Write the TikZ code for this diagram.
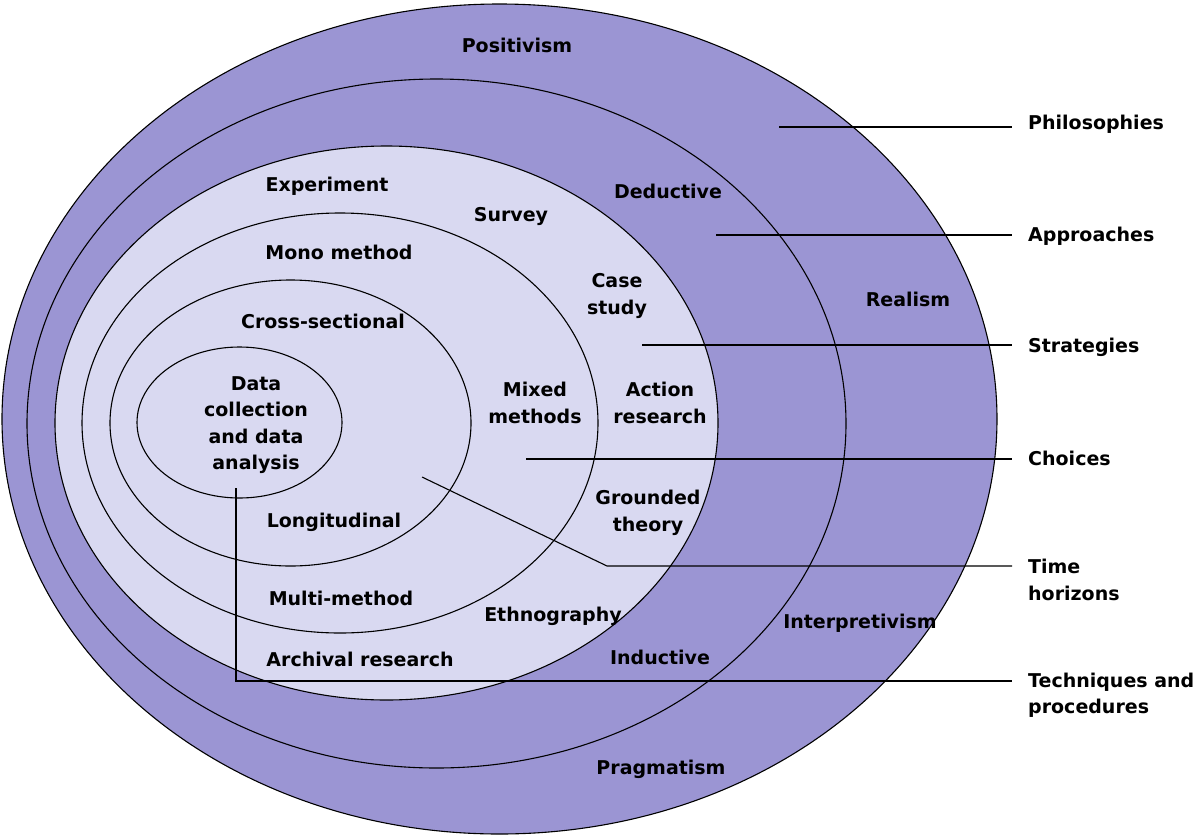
\documentclass[tikz,border=0pt]{standalone}
\usepackage{fontspec}
\setmainfont{DejaVu Sans}
\usetikzlibrary{positioning}
\definecolor{ringdark}{RGB}{155,149,211}
\definecolor{ringlight}{RGB}{217,217,241}

\begin{document}
\begin{tikzpicture}[x=1pt, y=-1pt,
  ring/.style={draw=black, line width=1.1pt},
  lab/.style={font=\bfseries\fontsize{19}{26.5}\selectfont, align=center, inner sep=0pt},
  side/.style={font=\bfseries\fontsize{19}{26.5}\selectfont, align=left, anchor=west, inner ysep=0pt, inner xsep=16pt},
  lead/.style={draw=black, line width=1.1pt}]
\useasboundingbox (0,0) rectangle (1200,836);

% the onion, outside in
\draw[ring, fill=ringdark] (499.5,419) ellipse [x radius=497.5, y radius=415];
\draw[ring, fill=ringdark] (436.5,423.5) ellipse [x radius=409.5, y radius=344.5];
\draw[ring, fill=ringlight] (386.5,423) ellipse [x radius=331.5, y radius=277];
\draw[ring, fill=ringlight] (340,423) ellipse [x radius=258, y radius=210];
\draw[ring, fill=ringlight] (290.5,423) ellipse [x radius=180.5, y radius=143];
\draw[ring, fill=ringlight] (239.5,422.5) ellipse [x radius=102.5, y radius=75.5];

% layer labels on the right
\node (philo)[side] at (1012,124) {Philosophies};
\node (appr)[side] at (1012,236) {Approaches};
\node (strat)[side] at (1012,347) {Strategies};
\node (choi)[side] at (1012,458) {Choices};
\node (time)[side] at (1012,580) {Time\\horizons};
\node (tech)[side] at (1012,695) {Techniques and\\procedures};

\coordinate (pPhilo) at (779,127);
\coordinate (pAppr) at (716,235);
\coordinate (pStrat) at (642,345);
\coordinate (pChoi) at (526,459);
\coordinate (pTime) at (422,477);
\coordinate (kTime) at (607,566);
\coordinate (pTech) at (236,488);
\coordinate (kTech) at (236,681);

\draw[lead] (pPhilo) -- (pPhilo -| philo.west);
\draw[lead] (pAppr) -- (pAppr -| appr.west);
\draw[lead] (pStrat) -- (pStrat -| strat.west);
\draw[lead] (pChoi) -- (pChoi -| choi.west);
\draw[lead] (pTime) -- (kTime) -- (kTime -| time.west);
\draw[lead] (pTech) -- (kTech) -- (kTech -| tech.west);

% philosophies
\node (posi)[lab] at (517,45) {Positivism};
\node (real)[lab] at (908,299) {Realism};
\node (inter)[lab] at (860,623) {Interpretivism};
\node (prag)[lab] at (661,769) {Pragmatism};
% approaches
\node (dedu)[lab] at (668,191) {Deductive};
\node (indu)[lab] at (660,657) {Inductive};
% strategies
\node (expe)[lab] at (327,186) {Experiment};
\node (surv)[lab] at (511,216) {Survey};
\node (case)[lab] at (617,296) {Case\\study};
\node (acti)[lab] at (660,403) {Action\\research};
\node (grou)[lab] at (648,513) {Grounded\\theory};
\node (ethn)[lab] at (553,616) {Ethnography};
\node (arch)[lab] at (360,659) {Archival research};
% choices
\node (mono)[lab] at (339,252) {Mono method};
\node (mixe)[lab] at (535,403) {Mixed\\methods};
\node (mult)[lab] at (341,598) {Multi-method};
% time horizons
\node (cros)[lab] at (323,321) {Cross-sectional};
\node (long)[lab] at (334,522) {Longitudinal};
% techniques
\node (data)[lab] at (256,425) {Data\\collection\\and data\\analysis};
\end{tikzpicture}
\end{document}
